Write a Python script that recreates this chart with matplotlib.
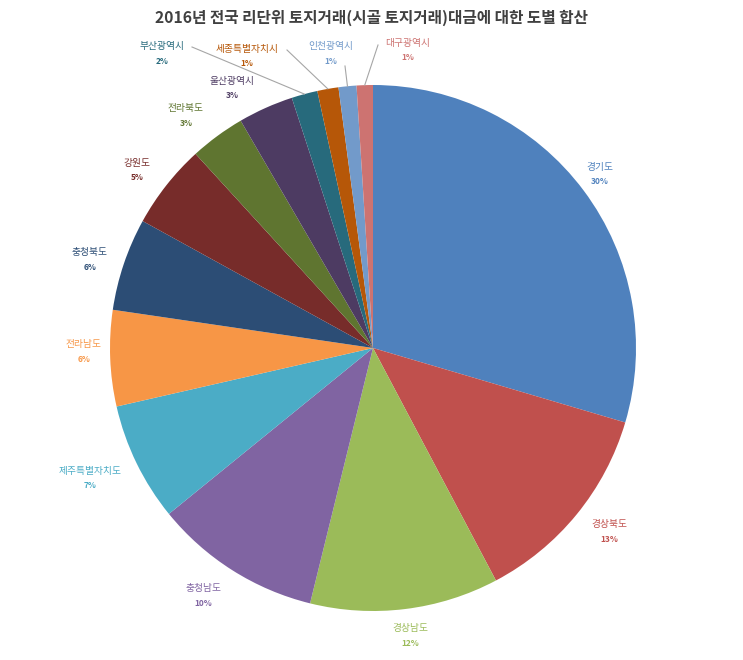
import matplotlib
matplotlib.use('Agg')
import matplotlib.pyplot as plt
import numpy as np

plt.rcParams['font.family'] = ['Noto Sans CJK KR', 'DejaVu Sans']

# data (share of the 2016 total)
regions = ['경기도', '경상북도', '경상남도', '충청남도', '제주특별자치도', '전라남도', '충청북도',
           '강원도', '전라북도', '울산광역시', '부산광역시', '세종특별자치시', '인천광역시', '대구광역시']
shares = [29.6, 12.7, 11.6, 10.3, 7.3, 5.9, 5.7, 5.2, 3.4, 3.4, 1.6, 1.3, 1.1, 1.0]
colors = ['#4F81BD', '#C0504D', '#9BBB59', '#8064A2', '#4BACC6', '#F79646', '#2C4D75',
          '#772C2A', '#5F7530', '#4D3B62', '#276A7C', '#B65708', '#729ACA', '#CD7371']
title = '2016년 전국 리단위 토지거래(시골 토지거래)대금에 대한 도별 합산'

# label layout (pixel positions, y from top) and which labels get a leader line
label_pos = [(600, 174), (609, 531), (410, 635), (203, 595), (90, 478), (84, 351), (90, 259),
             (137, 170), (186, 115), (232, 88), (162, 53), (247, 56), (331, 53), (408, 50)]
leader = {10: (192, 47), 11: (287, 50), 12: (345, 66), 13: (378, 45)}

W, H = 743, 660
fig = plt.figure(figsize=(W / 100, H / 100), dpi=100)
ax = fig.add_axes([0, 0, 1, 1])

cx, cy, r = 373, H - 348, 263
wedges, _ = ax.pie(shares, colors=colors, startangle=90, counterclock=False,
                   center=(cx, cy), radius=r, frame=True,
                   wedgeprops=dict(linewidth=0))
ax.set_xlim(0, W)
ax.set_ylim(0, H)
ax.set_aspect('equal')
ax.axis('off')

total = sum(shares)
for i, (name, v, c) in enumerate(zip(regions, shares, colors)):
    x, y = label_pos[i]
    ax.text(x, H - y + 7, name, color=c, fontsize=7, ha='center', va='center')
    ax.text(x, H - y - 8, f"{v / total * 100:.0f}%", color=c, fontsize=6,
            fontweight='bold', ha='center', va='center')
    if i in leader:
        w = wedges[i]
        mid = np.deg2rad((w.theta1 + w.theta2) / 2)
        ex, ey = cx + r * np.cos(mid), cy + r * np.sin(mid)
        lx, ly = leader[i]
        ax.plot([lx, ex], [H - ly, ey], color='#A6A6A6', lw=0.8)

fig.text(0.5, 1 - 18 / H, title, ha='center', va='center', fontsize=11.3,
         fontweight='bold', color='#404040')

fig.savefig('out.png', dpi=100)
